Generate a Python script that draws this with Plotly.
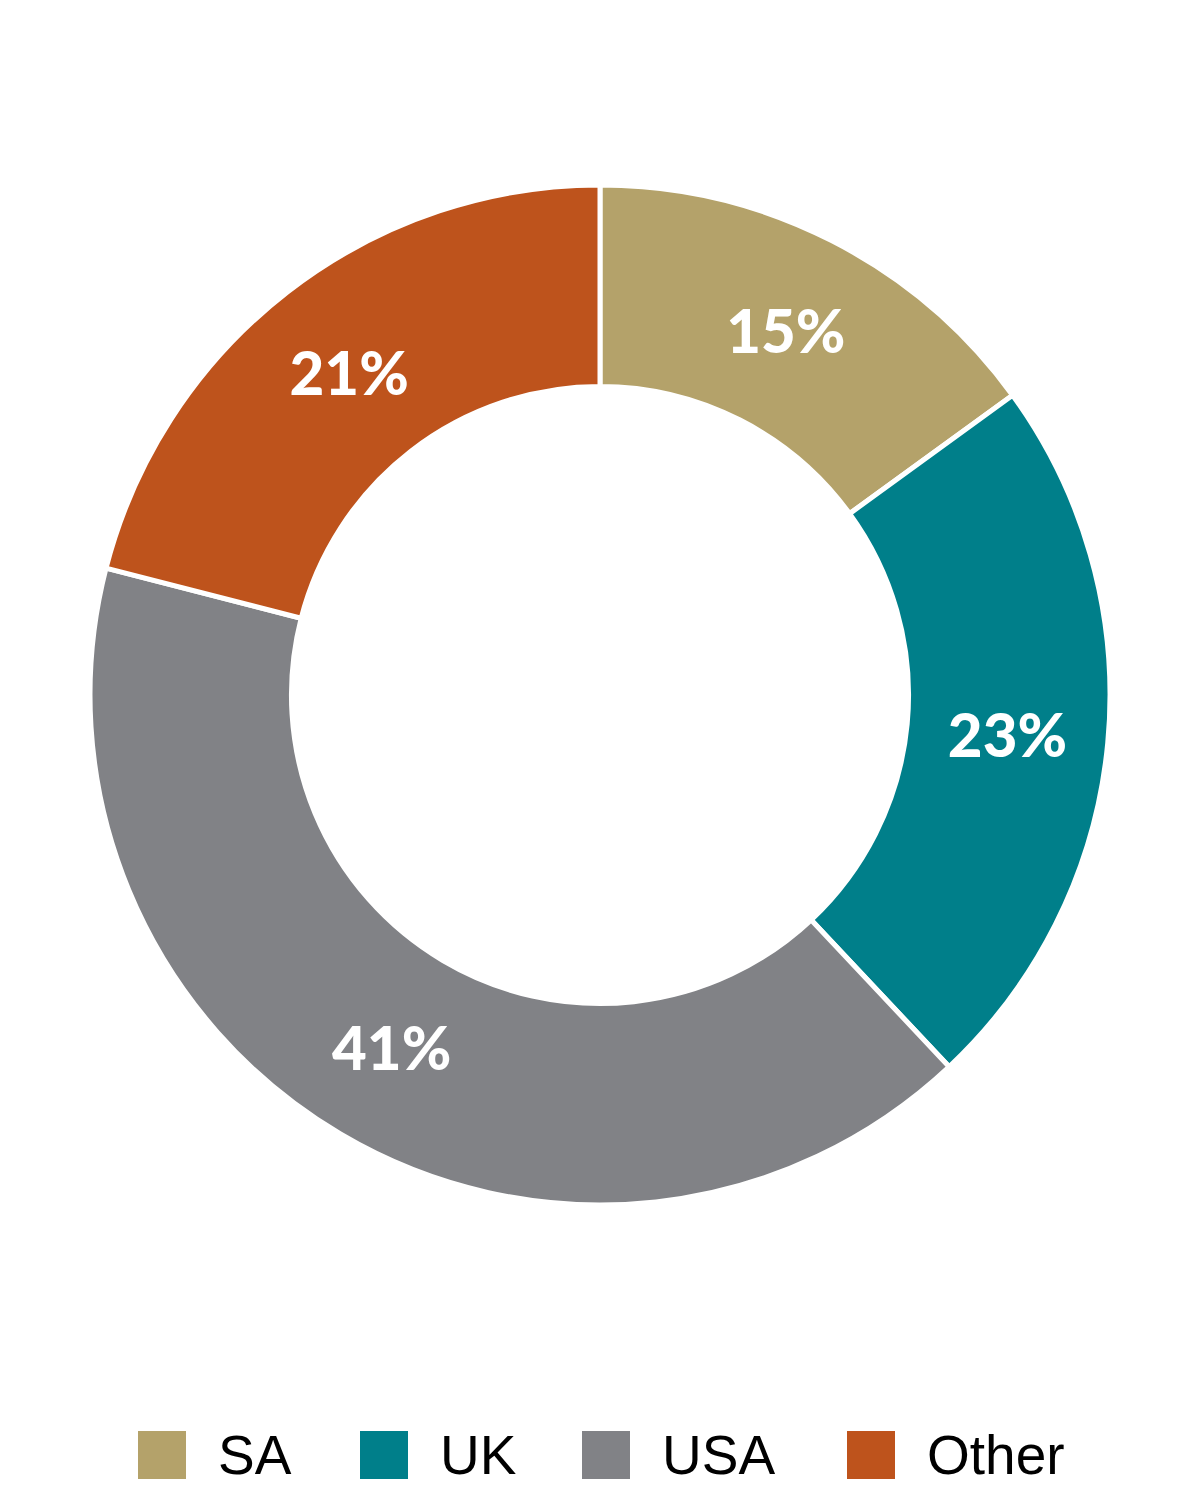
import plotly.graph_objects as go

labels = ["SA", "UK", "USA", "Other"]
values = [15, 23, 41, 21]
colors = ["#B4A26A", "#007F8A", "#818286", "#BE531C"]

W, H = 1200, 1500
OFF = 8  # page body margin
cx, cy, R = 600 - OFF, 695 - OFF, 510

fig = go.Figure(go.Pie(
    labels=labels, values=values, sort=False, direction="clockwise", rotation=0,
    hole=0.605,
    marker=dict(colors=colors, line=dict(color="white", width=5)),
    texttemplate="%{value}%", textinfo="text+value",
    textposition="inside", insidetextorientation="horizontal",
    textfont=dict(family="Lato", size=60, color="white", weight=900),
    domain=dict(x=[(cx - R) / W, (cx + R) / W], y=[(H - cy - R) / H, (H - cy + R) / H]),
    showlegend=False, hoverinfo="label+percent",
))

# custom legend (large swatches)
leg_x = [138 - OFF, 360 - OFF, 582 - OFF, 847 - OFF]
leg_y = 1455 - OFF
sq = 48
shapes = []
annos = []
for lab, col, x in zip(labels, colors, leg_x):
    shapes.append(dict(type="rect", xref="paper", yref="paper",
                       x0=x / W, x1=(x + sq) / W,
                       y0=(H - leg_y - sq / 2) / H, y1=(H - leg_y + sq / 2) / H,
                       fillcolor=col, line=dict(width=0)))
    annos.append(dict(xref="paper", yref="paper", x=(x + sq + 30) / W, y=(H - leg_y) / H,
                      text=lab, showarrow=False, xanchor="left", yanchor="middle",
                      font=dict(family="Liberation Sans", size=55, color="black")))

fig.update_layout(width=W, height=H, margin=dict(l=0, r=0, t=0, b=0),
                  paper_bgcolor="white", plot_bgcolor="white",
                  shapes=shapes, annotations=annos)
fig.write_html("out.html")
